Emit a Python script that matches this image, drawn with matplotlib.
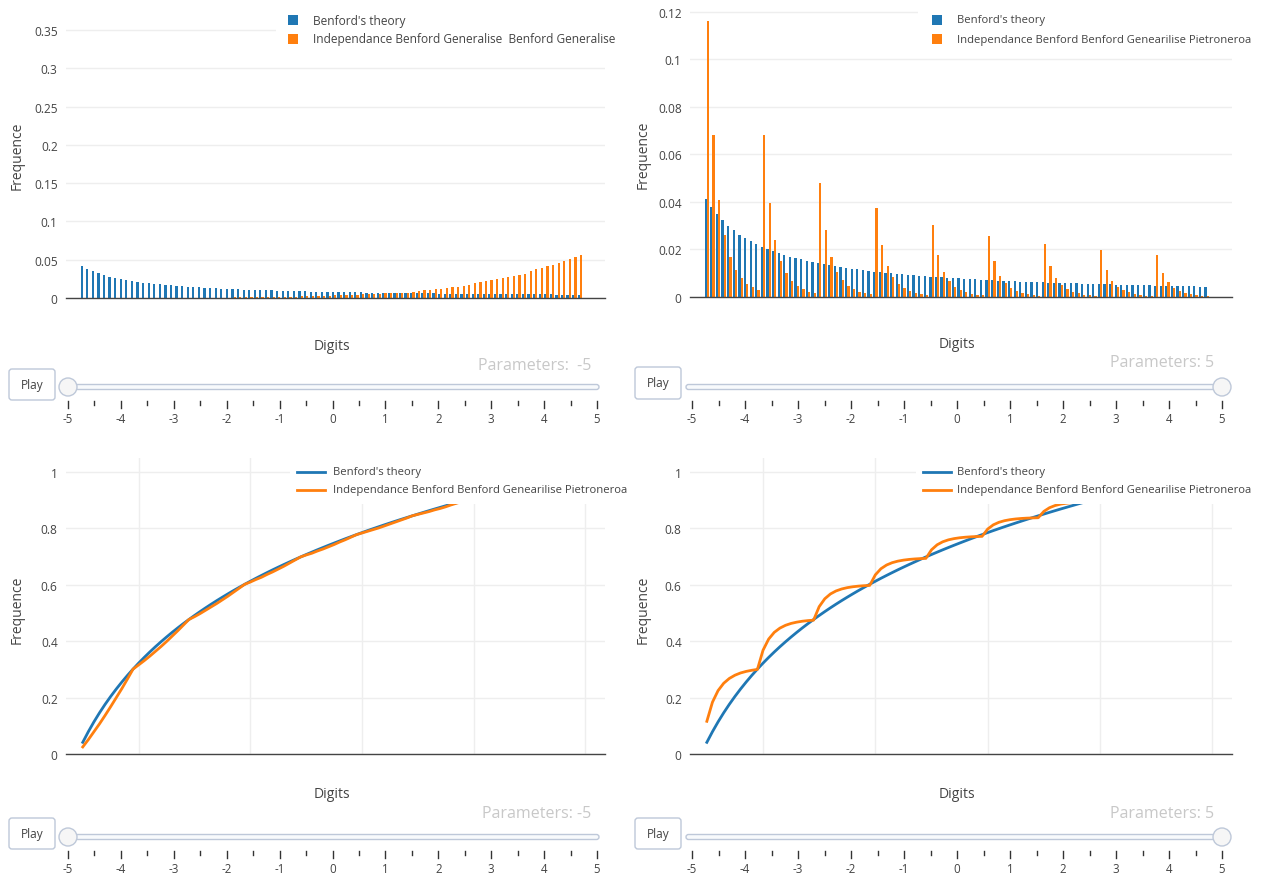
import matplotlib
matplotlib.use("Agg")
import matplotlib.pyplot as plt
import numpy as np
from matplotlib.patches import Rectangle, Circle, FancyBboxPatch
from matplotlib.lines import Line2D

plt.rcParams['font.family'] = ['Open Sans', 'DejaVu Sans']

# ---------------- data ----------------
digits = list(range(10, 100))

benford = [0.0414, 0.0378, 0.0348, 0.0322, 0.0300, 0.0280, 0.0263, 0.0248, 0.0235, 0.0223,
           0.0212, 0.0202, 0.0193, 0.0185, 0.0177, 0.0170, 0.0164, 0.0158, 0.0152, 0.0147,
           0.0142, 0.0138, 0.0134, 0.0130, 0.0126, 0.0122, 0.0119, 0.0116, 0.0113, 0.0110,
           0.0107, 0.0105, 0.0102, 0.0100, 0.0098, 0.0095, 0.0093, 0.0091, 0.0090, 0.0088,
           0.0086, 0.0084, 0.0083, 0.0081, 0.0080, 0.0078, 0.0077, 0.0076, 0.0074, 0.0073,
           0.0072, 0.0071, 0.0069, 0.0068, 0.0067, 0.0066, 0.0065, 0.0064, 0.0063, 0.0062,
           0.0062, 0.0061, 0.0060, 0.0059, 0.0058, 0.0058, 0.0057, 0.0056, 0.0055, 0.0055,
           0.0054, 0.0053, 0.0053, 0.0052, 0.0051, 0.0051, 0.0050, 0.0050, 0.0049, 0.0049,
           0.0048, 0.0047, 0.0047, 0.0046, 0.0046, 0.0045, 0.0045, 0.0045, 0.0044, 0.0044]

# top-left orange (parameter -5)
gen_minus5 = [0.00002, 0.00002, 0.00003, 0.00003, 0.00004, 0.00004, 0.00005, 0.00005, 0.00006, 0.00007,
              0.0001, 0.0001, 0.00012, 0.00013, 0.00015, 0.00016, 0.00018, 0.0002, 0.00022, 0.00024,
              0.0004, 0.00043, 0.00047, 0.0005, 0.00054, 0.00058, 0.00062, 0.00067, 0.00072, 0.00077,
              0.0011, 0.0012, 0.0013, 0.0014, 0.0015, 0.0016, 0.0017, 0.0018, 0.0019, 0.0020,
              0.0024, 0.0025, 0.0027, 0.0029, 0.0031, 0.0033, 0.0035, 0.0037, 0.0039, 0.0041,
              0.0047, 0.0050, 0.0053, 0.0056, 0.0059, 0.0062, 0.0065, 0.0068, 0.0071, 0.0075,
              0.0096, 0.0102, 0.0108, 0.0115, 0.0123, 0.0131, 0.0139, 0.0147, 0.0156, 0.0165,
              0.0197, 0.0206, 0.0219, 0.0232, 0.0246, 0.0259, 0.0272, 0.0290, 0.0303, 0.0316,
              0.0355, 0.0373, 0.0390, 0.0412, 0.0434, 0.0456, 0.0487, 0.0509, 0.0535, 0.0561]

# top-right orange (parameter 5)
gen_plus5 = [0.116, 0.068, 0.041, 0.026, 0.017, 0.0115, 0.008, 0.0055, 0.004, 0.003,
             0.068, 0.0395, 0.024, 0.015, 0.010, 0.0067, 0.0045, 0.0033, 0.0022, 0.0015,
             0.048, 0.028, 0.017, 0.0107, 0.007, 0.0047, 0.0032, 0.0022, 0.0015, 0.0011,
             0.0375, 0.0217, 0.0131, 0.0083, 0.0054, 0.0036, 0.0025, 0.0017, 0.0012, 0.0008,
             0.0305, 0.0177, 0.0107, 0.0068, 0.0044, 0.003, 0.002, 0.0014, 0.001, 0.0007,
             0.0258, 0.015, 0.009, 0.0057, 0.0037, 0.0025, 0.0017, 0.0012, 0.0008, 0.0006,
             0.0225, 0.013, 0.0078, 0.005, 0.0032, 0.0022, 0.0015, 0.001, 0.0007, 0.0005,
             0.0198, 0.0115, 0.0069, 0.0044, 0.0028, 0.0019, 0.0013, 0.0009, 0.0006, 0.0004,
             0.0177, 0.0102, 0.0062, 0.0039, 0.0025, 0.0017, 0.0012, 0.0008, 0.0006, 0.0004]

# bottom-left orange cumulative (parameter -5)
cum_minus5 = [0.025, 0.051, 0.079, 0.107, 0.137, 0.168, 0.200, 0.232, 0.266, 0.301,
              0.316, 0.331, 0.347, 0.364, 0.381, 0.399, 0.418, 0.437, 0.457, 0.477,
              0.487, 0.498, 0.510, 0.522, 0.534, 0.547, 0.560, 0.574, 0.588, 0.602,
              0.610, 0.619, 0.627, 0.637, 0.646, 0.656, 0.666, 0.677, 0.688, 0.699,
              0.706, 0.712, 0.720, 0.727, 0.735, 0.743, 0.752, 0.760, 0.769, 0.778,
              0.784, 0.790, 0.796, 0.802, 0.809, 0.816, 0.823, 0.830, 0.837, 0.845,
              0.850, 0.855, 0.860, 0.866, 0.871, 0.877, 0.884, 0.890, 0.896, 0.903,
              0.907, 0.912, 0.916, 0.921, 0.926, 0.932, 0.937, 0.943, 0.948, 0.954,
              0.958, 0.962, 0.966, 0.970, 0.975, 0.980, 0.984, 0.989, 0.995, 1.000]

cum_benford = np.cumsum(benford)
cum_plus5 = np.cumsum(gen_plus5)

series_names = ["Benford's theory",
                "Independance Benford Generalise  Benford Generalise",
                "Independance Benford Benford Genearilise Pietroneroa"]
param_labels = ["Parameters:  -5", "Parameters: 5", "Parameters: -5", "Parameters: 5"]
param_values = [-5, 5, -5, 5]
slider_ticks = [-5, -4, -3, -2, -1, 0, 1, 2, 3, 4, 5]

BLUE = '#1f77b4'
ORANGE = '#ff7f0e'
TXT = '#444444'
GRID = '#eeeeee'

# ---------------- figure ----------------
W, H = 1261, 878
fig = plt.figure(figsize=(W / 100, H / 100), dpi=100)
fig.patch.set_facecolor('white')


def px_axes(x0, y0, x1, y1):
    return fig.add_axes([x0 / W, 1 - y1 / H, (x1 - x0) / W, (y1 - y0) / H])


def style(ax, yticks, ylim, vgrid):
    ax.set_xlim(7, 103.5)
    ax.set_ylim(*ylim)
    ax.set_yticks(yticks)
    ax.set_yticklabels([('%g' % t) for t in yticks])
    ax.set_xticks([20, 40, 60, 80, 100] if vgrid else [])
    ax.tick_params(axis='both', length=0, labelsize=8.6, labelcolor=TXT, pad=6)
    ax.tick_params(axis='x', labelbottom=False)
    for s in ['top', 'right', 'left']:
        ax.spines[s].set_visible(False)
    ax.spines['bottom'].set_color(TXT)
    ax.spines['bottom'].set_linewidth(1.0)
    ax.set_axisbelow(True)
    ax.grid(axis='y', color=GRID, linewidth=1)
    if vgrid:
        ax.grid(axis='x', color=GRID, linewidth=1)
    ax.set_ylabel('Frequence', fontsize=10, color=TXT)
    ax.set_xlabel('Digits', fontsize=10, color=TXT, va='center')


x = np.array(digits)

# top-left
ax1 = px_axes(66, 12, 605, 299)
style(ax1, [0, 0.05, 0.1, 0.15, 0.2, 0.25, 0.3, 0.35], (0, 0.375), False)
ax1.bar(x - 0.2, benford, width=0.4, color=BLUE, linewidth=0)
ax1.bar(x + 0.2, gen_minus5, width=0.4, color=ORANGE, linewidth=0)
ax1.yaxis.set_label_coords(-0.076, 0.5)
ax1.xaxis.set_label_coords(0.493, -(347 - 299) / 287)

# top-right
ax2 = px_axes(690, 11, 1232, 298)
style(ax2, [0, 0.02, 0.04, 0.06, 0.08, 0.1, 0.12], (0, 0.1208), False)
ax2.bar(x - 0.2, benford, width=0.4, color=BLUE, linewidth=0)
ax2.bar(x + 0.2, gen_plus5, width=0.4, color=ORANGE, linewidth=0)
ax2.yaxis.set_label_coords(-0.072, 0.5)
ax2.xaxis.set_label_coords(0.493, -(344 - 298) / 287)

# bottom-left
ax3 = px_axes(66, 459, 605, 755)
style(ax3, [0, 0.2, 0.4, 0.6, 0.8, 1.0], (0, 1.05), True)
ax3.plot(x, cum_benford, color=BLUE, linewidth=2)
ax3.plot(x, cum_minus5, color=ORANGE, linewidth=2)
ax3.yaxis.set_label_coords(-0.076, 0.49)
ax3.xaxis.set_label_coords(0.493, -(795 - 755) / 296)

# bottom-right
ax4 = px_axes(690, 459, 1232, 755)
style(ax4, [0, 0.2, 0.4, 0.6, 0.8, 1.0], (0, 1.05), True)
ax4.plot(x, cum_benford, color=BLUE, linewidth=2)
ax4.plot(x, cum_plus5, color=ORANGE, linewidth=2)
ax4.yaxis.set_label_coords(-0.072, 0.49)
ax4.xaxis.set_label_coords(0.493, -(795 - 755) / 296)

# ---------------- overlay (legends + sliders) ----------------
ov = fig.add_axes([0, 0, 1, 1], zorder=10)
ov.set_xlim(0, W)
ov.set_ylim(H, 0)
ov.axis('off')
ov.patch.set_visible(False)


def legend(x0, x1, y0, y1, mx, tx, rows, kind, name2, fs):
    ov.add_patch(Rectangle((x0, y0), x1 - x0, y1 - y0, facecolor='white', edgecolor='none'))
    for (yy, col, name) in zip(rows, [BLUE, ORANGE], ["Benford's theory", name2]):
        if kind == 'bar':
            ov.add_patch(Rectangle((mx, yy - 5), 10, 10, facecolor=col, edgecolor='none'))
        else:
            ov.add_line(Line2D([mx, mx + 28], [yy, yy], color=col, linewidth=2))
        ov.text(tx, yy, name, fontsize=fs, color=TXT, va='center', ha='left')


legend(276, 622, 6, 50, 288, 313, [21, 40], 'bar', series_names[1], 8.6)
legend(918, 1258, 6, 50, 932, 957, [21, 40], 'bar', series_names[2], 8.15)
legend(290, 622, 456, 505, 297, 333, [473, 491], 'line', series_names[2], 8.15)
legend(916, 1258, 456, 505, 923, 957, [473, 491], 'line', series_names[2], 8.15)

EDGE = '#bec8d9'


def slider(col, row, value, label):
    if col == 0:
        bx0, bx1 = 9, 55
        t0, t1 = 68, 597
        tr0, tr1 = 61, 599
        lx = 591
    else:
        bx0, bx1 = 635, 681
        t0, t1 = 692, 1222
        tr0, tr1 = 686, 1228
        lx = 1214
    if row == 0:
        by0, by1 = (370, 401) if col == 0 else (368, 400)
        ty = 388
        ly = 366 if col == 0 else 363
    else:
        by0, by1 = 819, 850
        ty = 838
        ly = 814
    # play button
    ov.add_patch(FancyBboxPatch((bx0, by0), bx1 - bx0, by1 - by0,
                                boxstyle='round,pad=0,rounding_size=3',
                                facecolor='white', edgecolor=EDGE, linewidth=1))
    ov.text((bx0 + bx1) / 2, (by0 + by1) / 2, 'Play', fontsize=8.6, color=TXT,
            ha='center', va='center')
    # track
    ov.add_patch(FancyBboxPatch((tr0, ty - 2.5), tr1 - tr0, 5,
                                boxstyle='round,pad=0,rounding_size=2.5',
                                facecolor='#f8fafc', edgecolor=EDGE, linewidth=1))
    # ticks
    step = (t1 - t0) / 10
    for i, v in enumerate(slider_ticks):
        xx = t0 + i * step
        ov.add_line(Line2D([xx, xx], [ty + 14, ty + 21], color='#333333', linewidth=1))
        ov.text(xx, ty + 32, '%d' % v, fontsize=8.3, color=TXT, ha='center', va='center')
        if i < 10:
            xm = xx + step / 2
            ov.add_line(Line2D([xm, xm], [ty + 14, ty + 18], color='#333333', linewidth=1))
    # handle
    hx = t0 + (value - slider_ticks[0]) * step
    ov.add_patch(Circle((hx, ty), 9, facecolor='#f6f6f6', edgecolor=EDGE, linewidth=1))
    # current value
    ov.text(lx, ly, label, fontsize=11.5, color='#c8c8c8', ha='right', va='center')


slider(0, 0, param_values[0], param_labels[0])
slider(1, 0, param_values[1], param_labels[1])
slider(0, 1, param_values[2], param_labels[2])
slider(1, 1, param_values[3], param_labels[3])

fig.savefig('out.png', dpi=100, facecolor='white')
